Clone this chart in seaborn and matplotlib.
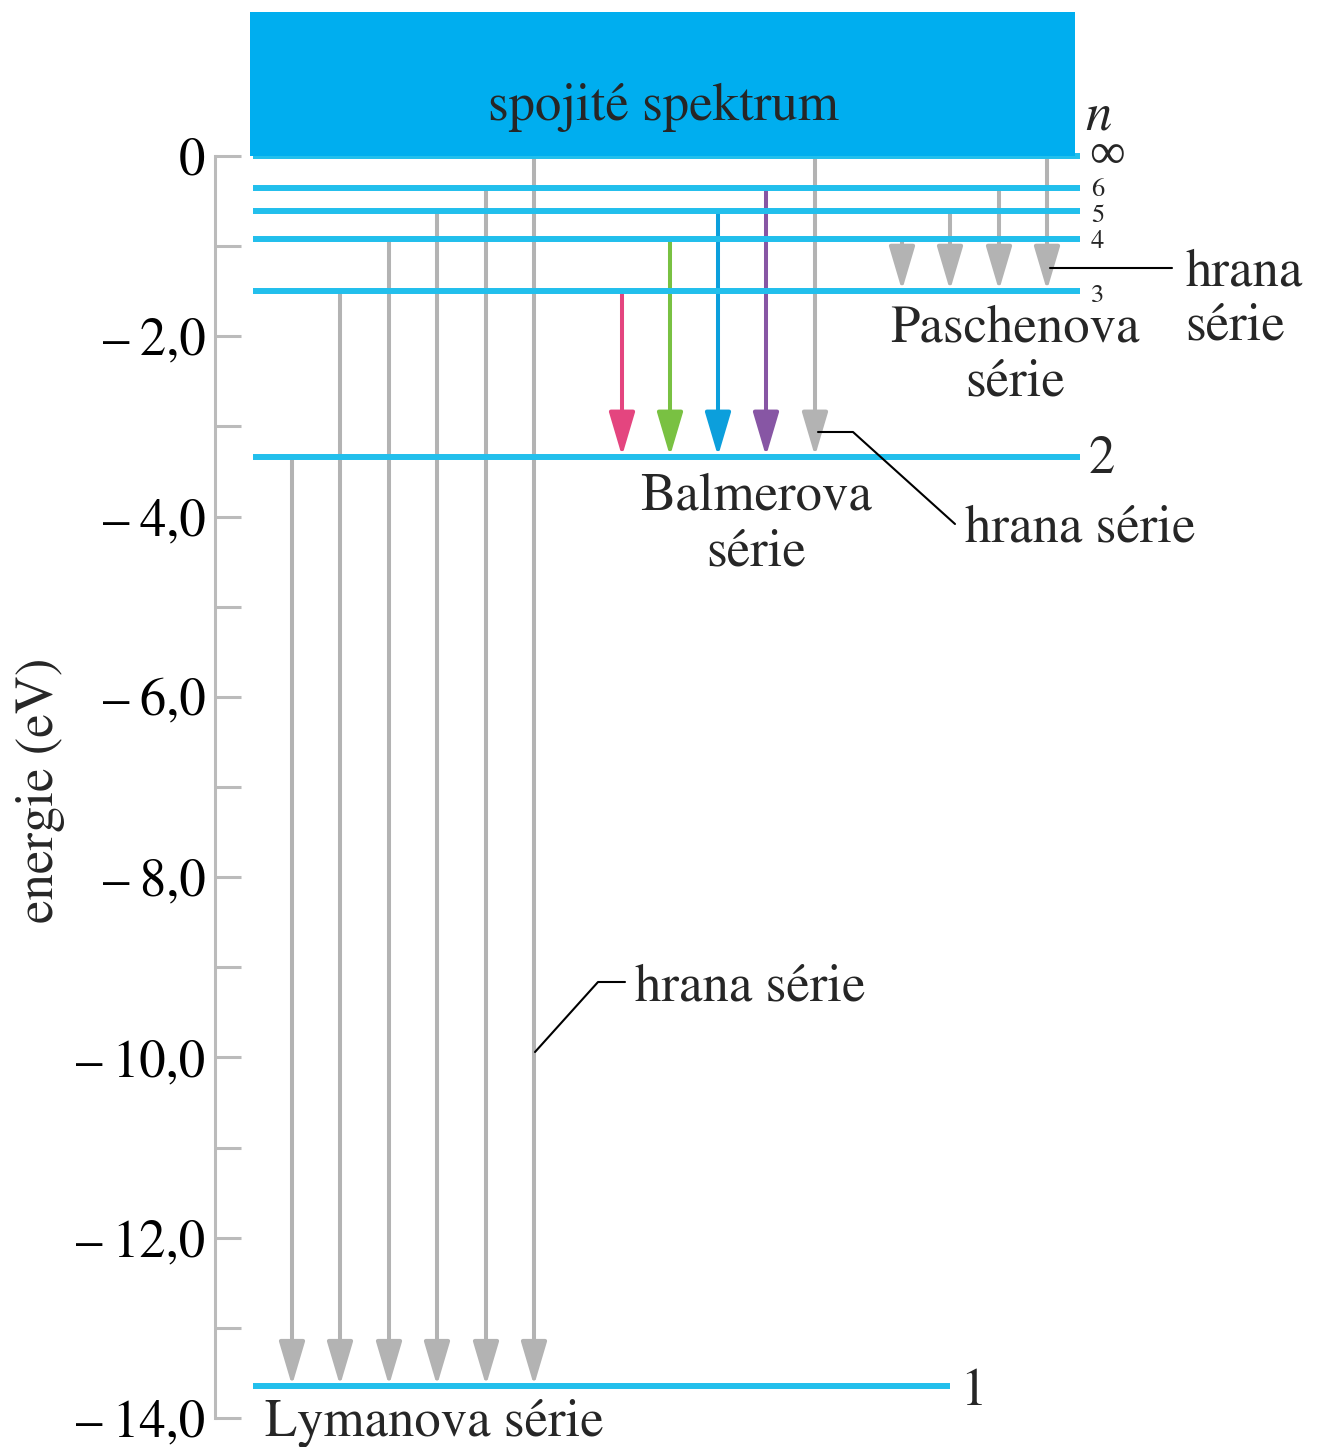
import matplotlib
matplotlib.use("Agg")
import matplotlib.pyplot as plt
import seaborn as sns
from matplotlib.patches import FancyArrowPatch, ArrowStyle, Rectangle

# energie hladin vodiku
level_n = ['1', '2', '3', '4', '5', '6', '∞']
level_energy = [-13.65, -3.34, -1.50, -0.92, -0.61, -0.355, 0.0]

# serie: poloha sipky, vychozi hladina, barva
lyman_x = [292, 340, 389, 437, 486, 534]
lyman_from = ['2', '3', '4', '5', '6', '∞']

balmer_x = [622, 670, 718, 766, 815]
balmer_from = ['3', '4', '5', '6', '∞']
balmer_colors = ['#E4457F', '#79C142', '#0C9FDC', '#8756A4', '#B3B3B3']

paschen_x = [902, 950, 999, 1047]
paschen_from = ['4', '5', '6', '∞']

tick_values = [0, -2, -4, -6, -8, -10, -12, -14]
tick_labels = ['0', '–\u20092,0', '–\u20094,0', '–\u20096,0', '–\u20098,0',
               '–\u200910,0', '–\u200912,0', '–\u200914,0']
minor_values = [-1, -3, -5, -7, -9, -11, -13]

E = dict(zip(level_n, level_energy))

sns.set_theme(style="white")
plt.rcParams['font.family'] = ['STIXGeneral', 'Liberation Serif', 'DejaVu Serif']

W, H = 1331, 1447
PX = 90.14          # pixelu na 1 eV
Y0 = 156            # pixel s nulovou energii


def px2e(y):
    return -(y - Y0) / PX


fig = plt.figure(figsize=(W / 100, H / 100), dpi=100)
ax = fig.add_axes([215 / W, 0, 1 - 215 / W, 1])
ax.set_xlim(215, W)
ax.set_ylim(px2e(H), px2e(0))

sns.despine(ax=ax, top=True, right=True, bottom=True, left=False)
gray = '#BBBBBB'
ax.spines['left'].set_color(gray)
ax.spines['left'].set_linewidth(2.2)
ax.spines['left'].set_bounds(-14, 0)
ax.set_xticks([])
ax.set_yticks(tick_values)
ax.set_yticklabels(tick_labels)
ax.set_yticks(minor_values, minor=True)
ax.tick_params(axis='y', which='both', direction='in', length=19, width=2.2,
               color=gray, left=True, pad=7, labelsize=38, labelcolor='black')
ax.set_facecolor('white')

line_col = '#22BFEC'
# hladiny
for n, e in zip(level_n, level_energy):
    x1 = 950 if n == '1' else 1080
    ax.plot([253, x1], [e, e], color=line_col, lw=4.3, solid_capstyle='butt', zorder=3)

# spojite spektrum
ax.add_patch(Rectangle((250, 0), 825, px2e(12), facecolor='#00AEEF',
                       edgecolor='none', zorder=4))
ax.text(663, px2e(120), 'spojité spektrum', fontsize=38, ha='center',
        va='baseline', zorder=5)

style = ArrowStyle('-|>', head_length=27, head_width=8)


def arrow(x, e_from, e_to, color):
    ax.add_patch(FancyArrowPatch((x, e_from), (x, e_to + 0.01), arrowstyle=style,
                                 mutation_scale=1, lw=2.9, color=color,
                                 shrinkA=0, shrinkB=0, zorder=2))


for x, n in zip(lyman_x, lyman_from):
    arrow(x, E[n], E['1'], '#B3B3B3')
for x, n, c in zip(balmer_x, balmer_from, balmer_colors):
    arrow(x, E[n], E['2'], c)
for x, n in zip(paschen_x, paschen_from):
    arrow(x, E[n], E['3'], '#B3B3B3')

# popisky hladin
ax.text(1098, px2e(130), 'n', fontsize=38, style='italic', ha='center', va='baseline')
ax.text(1107, px2e(168), '∞', fontsize=36, ha='center', va='baseline',
        family=['Liberation Serif', 'DejaVu Serif'])
for n, yb in zip(['6', '5', '4', '3'], [196, 222, 248, 302]):
    ax.text(1091, px2e(yb), n, fontsize=19, ha='left', va='baseline')
ax.text(1088, px2e(473), '2', fontsize=38, ha='left', va='baseline')
ax.text(960, px2e(1405), '1', fontsize=38, ha='left', va='baseline')

# nazvy serii
ax.text(1015, px2e(342), 'Paschenova', fontsize=38, ha='center', va='baseline')
ax.text(1015, px2e(395), 'série', fontsize=38, ha='center', va='baseline')
ax.text(756, px2e(510), 'Balmerova', fontsize=38, ha='center', va='baseline')
ax.text(756, px2e(565), 'série', fontsize=38, ha='center', va='baseline')
ax.text(265, px2e(1436), 'Lymanova série', fontsize=38, ha='left', va='baseline')

# hrany serii
ax.text(1185, px2e(285), 'hrana', fontsize=38, ha='left', va='baseline')
ax.text(1185, px2e(340), 'série', fontsize=38, ha='left', va='baseline')
ax.plot([1050, 1172], [px2e(268)] * 2, color='black', lw=1.5, zorder=6)

ax.text(965, px2e(541), 'hrana série', fontsize=38, ha='left', va='baseline')
ax.plot([818, 853, 955], [px2e(432), px2e(432), px2e(524)], color='black', lw=1.5, zorder=6)

ax.text(635, px2e(1000), 'hrana série', fontsize=38, ha='left', va='baseline')
ax.plot([535, 598, 625], [px2e(1052), px2e(982), px2e(982)], color='black', lw=1.5, zorder=6)

fig.text(40 / W, 1 - 790 / H, 'energie (eV)', fontsize=38, rotation=90,
         ha='center', va='center')

fig.savefig('out.png', dpi=100, facecolor='white')
